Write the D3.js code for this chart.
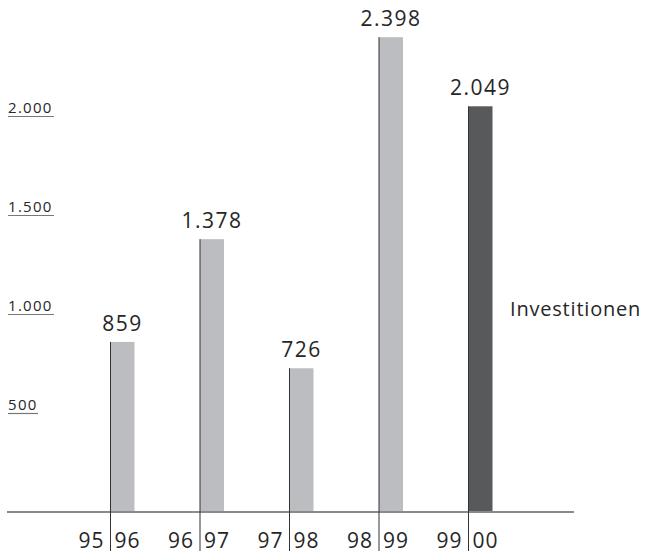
<!DOCTYPE html>
<html>
<head>
<meta charset="utf-8">
<script src="https://cdn.jsdelivr.net/npm/d3@7"></script>
<style>
  body { margin: 0; background: #fff; }
  svg text { font-family: "Open Sans", sans-serif; fill: #262626; }
</style>
</head>
<body>
<div id="chart"></div>
<script>
// data
const yearsFrom = ["95", "96", "97", "98", "99"];
const yearsTo = ["96", "97", "98", "99", "00"];
const values = [859, 1378, 726, 2398, 2049];
const valueLabels = ["859", "1.378", "726", "2.398", "2.049"];
const yTicks = [500, 1000, 1500, 2000];
const yTickLabels = ["500", "1.000", "1.500", "2.000"];
const seriesLabel = "Investitionen";

const w = 645;
const h = 551;
const base = 512;

const svg = d3.select("#chart")
  .append("svg")
  .attr("width", w)
  .attr("height", h);

const xScale = d3.scaleBand()
  .domain(yearsTo)
  .range([110.5, 492.5])
  .paddingInner(0.732)
  .paddingOuter(0);

const yScale = d3.scaleLinear()
  .domain([0, 2500])
  .range([base, base - 2500 * 0.198]);

// y tick labels with underline
const ticks = svg.append("g").attr("id", "y-axis");
ticks.selectAll("line")
  .data(yTicks)
  .enter()
  .append("line")
  .attr("x1", 8)
  .attr("x2", (d, i) => i === 0 ? 38 : 54)
  .attr("y1", (d) => yScale(d) + 0.5)
  .attr("y2", (d) => yScale(d) + 0.5)
  .attr("stroke", "#777")
  .attr("stroke-width", 1.2);
ticks.selectAll("text")
  .data(yTicks)
  .enter()
  .append("text")
  .attr("x", 8)
  .attr("y", (d) => yScale(d) - 3)
  .attr("font-size", 15)
  .attr("letter-spacing", 1.3)
  .text((d, i) => yTickLabels[i]);

// bars
svg.selectAll("rect.bar")
  .data(values)
  .enter()
  .append("rect")
  .attr("class", "bar")
  .attr("x", (d, i) => xScale(yearsTo[i]))
  .attr("y", (d) => yScale(d))
  .attr("width", xScale.bandwidth())
  .attr("height", (d) => base - yScale(d))
  .attr("fill", (d, i) => i === values.length - 1 ? "#58595b" : "#bcbdc0");

// baseline
svg.append("line")
  .attr("x1", 7)
  .attr("x2", 574)
  .attr("y1", base)
  .attr("y2", base)
  .attr("stroke", "#8a8a8a")
  .attr("stroke-width", 2);

// divider lines at the left edge of each bar
svg.selectAll("line.div")
  .data(values)
  .enter()
  .append("line")
  .attr("class", "div")
  .attr("x1", (d, i) => xScale(yearsTo[i]))
  .attr("x2", (d, i) => xScale(yearsTo[i]))
  .attr("y1", (d) => yScale(d))
  .attr("y2", h)
  .attr("stroke", "#333")
  .attr("stroke-width", 1);

// value labels
svg.selectAll("text.val")
  .data(values)
  .enter()
  .append("text")
  .attr("class", "val")
  .attr("x", (d, i) => xScale(yearsTo[i]) + xScale.bandwidth() / 2)
  .attr("y", (d) => yScale(d) - 11)
  .attr("text-anchor", "middle")
  .attr("font-size", 21)
  .attr("letter-spacing", 1.5)
  .text((d, i) => valueLabels[i]);

// x labels
svg.selectAll("text.from")
  .data(yearsFrom)
  .enter()
  .append("text")
  .attr("class", "from")
  .attr("x", (d, i) => xScale(yearsTo[i]) - 6)
  .attr("y", 548)
  .attr("text-anchor", "end")
  .attr("font-size", 21)
  .attr("letter-spacing", 1)
  .text((d) => d);
svg.selectAll("text.to")
  .data(yearsTo)
  .enter()
  .append("text")
  .attr("class", "to")
  .attr("x", (d) => xScale(d) + 4)
  .attr("y", 548)
  .attr("font-size", 21)
  .attr("letter-spacing", 1)
  .text((d) => d);

svg.append("text")
  .attr("x", 510)
  .attr("y", 316)
  .attr("font-size", 20)
  .attr("letter-spacing", 0.8)
  .text(seriesLabel);
</script>
</body>
</html>
